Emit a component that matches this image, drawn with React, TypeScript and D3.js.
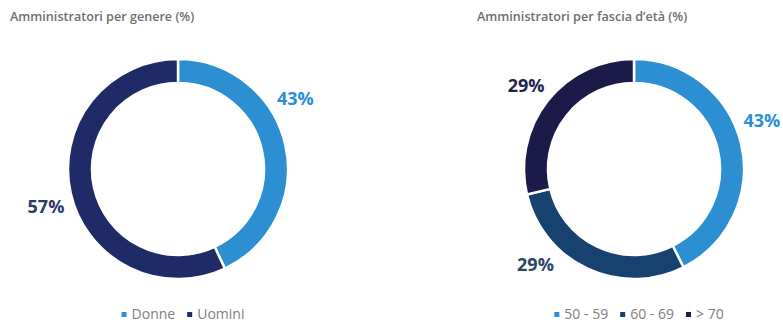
import React, { useEffect, useRef } from "react";
import * as d3 from "d3";

const genderTitle = "Amministratori per genere (%)";
const genderCategories = ["Donne", "Uomini"];
const genderValues = [43, 57];
const genderColors = ["#2b8fd2", "#1e2b66"];
const genderLabelColors = ["#2b8fd2", "#2c3a6c"];

const ageTitle = "Amministratori per fascia d’età (%)";
const ageCategories = ["50 - 59", "60 - 69", "> 70"];
const ageValues = [43, 29, 29];
const ageColors = ["#2b8fd2", "#17426f", "#1b1a48"];
const ageLabelColors = ["#2b8fd2", "#2c4468", "#22224a"];

// layout (not data): label angles in degrees, clockwise from top
const genderLabelAngles = [59, 254.5];
const ageLabelAngles = [69, 226, 308];

const W = 783;
const H = 323;
const FONT = "'Open Sans', 'Noto Sans', sans-serif";

export default function App() {
  const ref = useRef<SVGSVGElement | null>(null);

  useEffect(() => {
    const svg = d3.select(ref.current);
    svg.selectAll("*").remove();

    const outerR = 110;
    const innerR = 86;
    const labelR = 137;

    function drawDonut(
      cx: number,
      cy: number,
      title: string,
      titleX: number,
      cats: string[],
      vals: number[],
      colors: string[],
      labelColors: string[],
      labelAngles: number[]
    ) {
      svg
        .append("text")
        .attr("x", titleX)
        .attr("y", 21)
        .attr("font-family", FONT)
        .attr("font-size", 12.6)
        .attr("font-weight", 600)
        .attr("fill", "#6e6e6e")
        .text(title);

      const g = svg.append("g").attr("transform", `translate(${cx},${cy})`);
      const pie = d3.pie<number>().sort(null).value((d) => d);
      const arcs = pie(vals);
      const arc = d3.arc<d3.PieArcDatum<number>>().innerRadius(innerR).outerRadius(outerR);
      g.selectAll("path.slice")
        .data(arcs)
        .enter()
        .append("path")
        .attr("class", "slice")
        .attr("d", arc)
        .attr("fill", (_d, i) => colors[i])
        .attr("stroke", "#ffffff")
        .attr("stroke-width", 2.5);

      g.selectAll("text.lbl")
        .data(arcs)
        .enter()
        .append("text")
        .attr("class", "lbl")
        .attr("x", (_d, i) => labelR * Math.sin((labelAngles[i] * Math.PI) / 180))
        .attr("y", (_d, i) => -labelR * Math.cos((labelAngles[i] * Math.PI) / 180))
        .attr("text-anchor", "middle")
        .attr("dominant-baseline", "central")
        .attr("font-family", FONT)
        .attr("font-size", 18)
        .attr("font-weight", 700)
        .attr("fill", (_d, i) => labelColors[i])
        .text((d) => `${d.data}%`);

      // legend
      const lg = svg.append("g");
      let x = 0;
      const sq = 5;
      cats.forEach((c, i) => {
        lg.append("rect")
          .attr("x", x)
          .attr("y", 312)
          .attr("width", sq)
          .attr("height", sq)
          .attr("fill", colors[i]);
        const t = lg
          .append("text")
          .attr("x", x + sq + 5)
          .attr("y", 319)
          .attr("font-family", FONT)
          .attr("font-size", 14)
          .attr("fill", "#808080")
          .text(c);
        const w = (t.node() as SVGTextElement).getComputedTextLength();
        x += sq + 5 + w + 12;
      });
      const total = x - 12;
      lg.attr("transform", `translate(${cx + 5 - total / 2},0)`);
    }

    drawDonut(178, 169, genderTitle, 10, genderCategories, genderValues, genderColors, genderLabelColors, genderLabelAngles);
    drawDonut(634, 169, ageTitle, 477, ageCategories, ageValues, ageColors, ageLabelColors, ageLabelAngles);
  }, []);

  return (
    <svg
      ref={ref}
      width={W}
      height={H}
      style={{ position: "absolute", left: 0, top: 0, background: "#ffffff" }}
    />
  );
}
